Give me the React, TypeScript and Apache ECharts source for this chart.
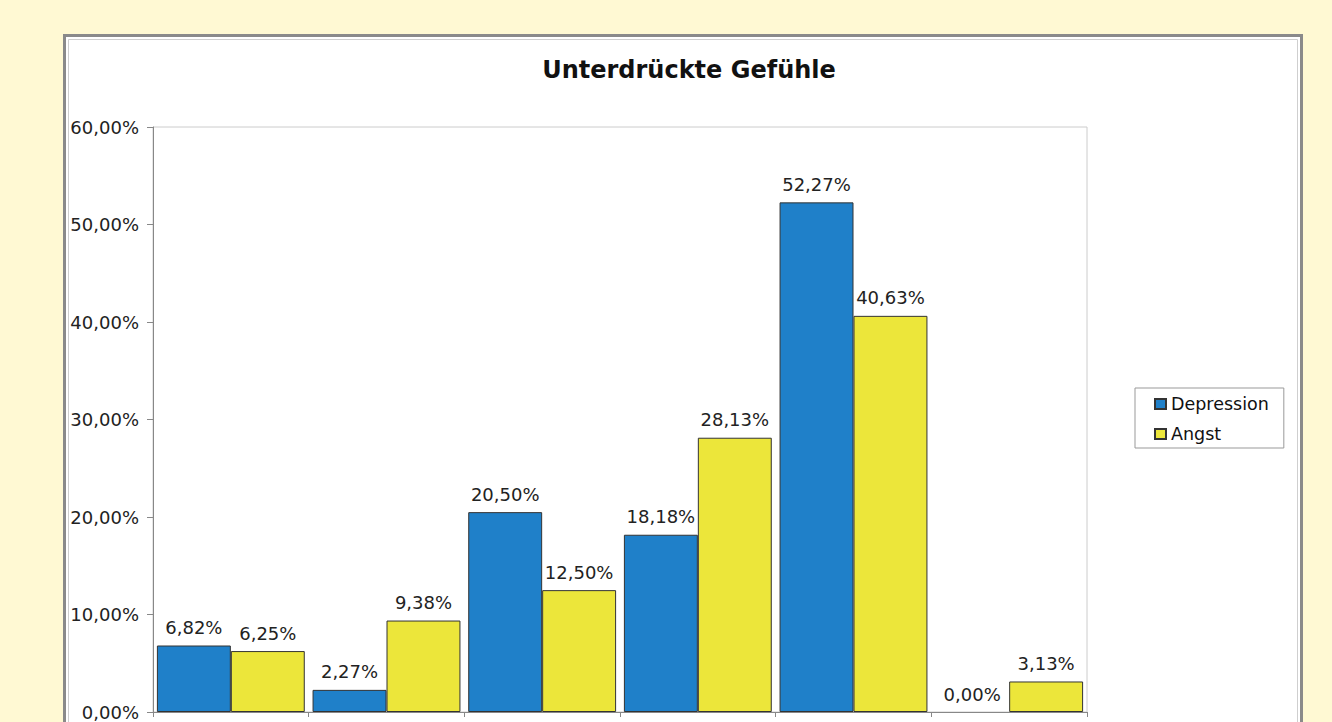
import React, { useEffect, useRef } from "react";
import * as echarts from "echarts";

const categories = ["1", "2", "3", "4", "5", "6"];
const depression = [6.82, 2.27, 20.5, 18.18, 52.27, 0.0];
const angst = [6.25, 9.38, 12.5, 28.13, 40.63, 3.13];
const seriesNames = ["Depression", "Angst"];
const title = "Unterdrückte Gefühle";

const FONT = "'DejaVu Sans', 'Liberation Sans', Arial, sans-serif";
const fmt = (v: number) => v.toFixed(2).replace(".", ",") + "%";

const barData = (arr: number[]) =>
  arr.map((v) => (v === 0 ? { value: v, itemStyle: { borderWidth: 0 } } : v));

export default function App() {
  const ref = useRef<HTMLDivElement>(null);
  useEffect(() => {
    document.body.style.margin = "0";
    const chart = echarts.init(ref.current!, null, { renderer: "svg" });
    const labelStyle = {
      show: true,
      position: "top",
      distance: 9,
      formatter: (p: any) => fmt(p.value),
      fontFamily: FONT,
      fontSize: 18,
      color: "#222",
    };
    chart.setOption({
      animation: false,
      backgroundColor: "#FFF9D3",
      textStyle: { fontFamily: FONT },
      graphic: [
        {
          type: "rect",
          z: -10,
          shape: { x: 64.5, y: 35.5, width: 1237, height: 720 },
          style: { fill: "#ffffff", stroke: "#8a8a8a", lineWidth: 3 },
        },
        {
          type: "rect",
          z: -9,
          shape: { x: 68.5, y: 39.5, width: 1229, height: 720 },
          style: { fill: "none", stroke: "#cfcfcf", lineWidth: 1 },
        },
      ],
      title: {
        text: title,
        left: 684,
        top: 53,
        textAlign: "center",
        textStyle: { fontFamily: FONT, fontSize: 24, fontWeight: "bold", color: "#111" },
      },
      legend: {
        orient: "vertical",
        left: 1135,
        top: 388,
        backgroundColor: "#fff",
        borderColor: "#999",
        borderWidth: 1,
        borderRadius: 0,
        padding: [7, 15, 5, 19],
        itemWidth: 11,
        itemHeight: 10,
        itemGap: 12,
        icon: "rect",
        textStyle: { fontFamily: FONT, fontSize: 17.5, color: "#111", padding: [0, 0, 0, 0] },
        data: seriesNames,
      },
      grid: {
        left: 153,
        top: 127,
        width: 934,
        height: 585,
        show: true,
        borderColor: "#cccccc",
        borderWidth: 1,
        backgroundColor: "transparent",
      },
      xAxis: {
        type: "category",
        data: categories,
        axisLine: { lineStyle: { color: "#888", width: 1 } },
        axisTick: { show: true, length: 5, lineStyle: { color: "#888" } },
        axisLabel: { show: false },
      },
      yAxis: {
        type: "value",
        min: 0,
        max: 60,
        interval: 10,
        axisLine: { show: true, lineStyle: { color: "#888", width: 1 } },
        axisTick: { show: true, length: 6, lineStyle: { color: "#888" } },
        splitLine: { show: false },
        axisLabel: {
          formatter: (v: number) => fmt(v),
          fontFamily: FONT,
          fontSize: 18,
          color: "#222",
          margin: 14,
        },
      },
      series: [
        {
          name: seriesNames[0],
          type: "bar",
          data: barData(depression),
          barGap: "0%",
          barCategoryGap: "5%",
          itemStyle: { color: "#1F80C9", borderColor: "#333", borderWidth: 1 },
          label: labelStyle,
        },
        {
          name: seriesNames[1],
          type: "bar",
          data: barData(angst),
          barGap: "0%",
          barCategoryGap: "5%",
          itemStyle: { color: "#ECE63A", borderColor: "#333", borderWidth: 1 },
          label: labelStyle,
        },
      ],
    });
    return () => chart.dispose();
  }, []);
  return <div ref={ref} style={{ position: "fixed", left: 0, top: 0, width: 1332, height: 722 }} />;
}
